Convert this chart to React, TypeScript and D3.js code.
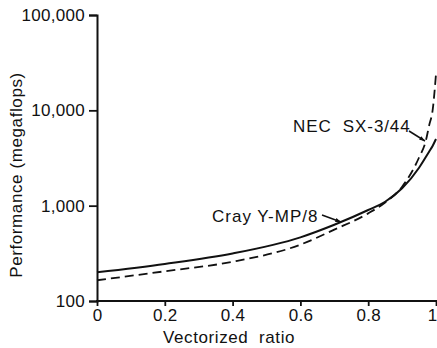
import { useEffect, useRef } from "react";
import * as d3 from "d3";

const vectorRatio = [0, 0.2, 0.4, 0.6, 0.7, 0.8, 0.85, 0.9, 0.95, 0.97, 0.98, 0.99, 1.0];
const crayYMP = [200, 245, 315, 465, 630, 900, 1100, 1520, 2500, 3240, 3700, 4230, 5000];
const necSX3 = [165, 205, 258, 390, 560, 830, 1080, 1580, 3200, 4800, 7000, 10000, 24000];

const xTicks = [0, 0.2, 0.4, 0.6, 0.8, 1];
const xTickLabels = ["0", "0.2", "0.4", "0.6", "0.8", "1"];
const yTicks = [100, 1000, 10000, 100000];
const yTickLabels = ["100", "1,000", "10,000", "100,000"];

const width = 437,
  height = 348;
const font = "'Liberation Sans', Arial, sans-serif";

export default function App() {
  const svgRef = useRef<SVGSVGElement>(null);

  useEffect(() => {
    const svg = d3.select(svgRef.current);
    svg.selectAll("*").remove();

    const x = d3.scaleLinear().domain([0, 1]).range([97, 436]);
    const y = d3.scaleLog().domain([100, 100000]).range([301, 15]);

    // y axis
    const yAxis = svg
      .append("g")
      .attr("transform", `translate(${x(0)},0)`)
      .call(
        d3
          .axisLeft(y)
          .tickValues(yTicks)
          .tickFormat((d, i) => yTickLabels[i])
          .tickSize(8)
          .tickPadding(4)
      );
    // x axis
    const xAxis = svg
      .append("g")
      .attr("transform", `translate(0,${y(100)})`)
      .call(
        d3
          .axisBottom(x)
          .tickValues(xTicks)
          .tickFormat((d, i) => xTickLabels[i])
          .tickSize(5)
          .tickPadding(3)
      );
    [yAxis, xAxis].forEach((g) => {
      g.select(".domain").attr("stroke", "#111").attr("stroke-width", 2);
      g.selectAll(".tick line").attr("stroke", "#111").attr("stroke-width", 1.8);
      g.selectAll(".tick text")
        .attr("fill", "#111")
        .style("font-family", font)
        .style("font-size", "17px")
        .style("letter-spacing", "0.3px");
    });
    xAxis.select(".domain").attr("d", `M${x(0) - 1},0H${width}`);
    // last label sits against the right edge
    xAxis
      .selectAll(".tick text")
      .filter((d) => d === 1)
      .attr("text-anchor", "end")
      .attr("dx", 1);

    const line = d3
      .line<number>()
      .x((d, i) => x(vectorRatio[i]))
      .y((d) => y(d))
      .curve(d3.curveMonotoneX);

    svg
      .append("path")
      .datum(crayYMP)
      .attr("d", line)
      .attr("fill", "none")
      .attr("stroke", "#111")
      .attr("stroke-width", 2);

    svg
      .append("path")
      .datum(necSX3)
      .attr("d", line)
      .attr("fill", "none")
      .attr("stroke", "#111")
      .attr("stroke-width", 1.8)
      .attr("stroke-dasharray", "9,5");

    // labels
    const txt = (s: string, tx: number, ty: number, ls: number, rot = 0, anchor = "start") =>
      svg
        .append("text")
        .attr("transform", `translate(${tx},${ty}) rotate(${rot})`)
        .attr("text-anchor", anchor)
        .attr("fill", "#111")
        .style("font-family", font)
        .style("font-size", "17px")
        .style("letter-spacing", `${ls}px`)
        .style("white-space", "pre")
        .text(s);

    txt("Performance (megaflops)", 22, 175, 0.6, -90, "middle");
    txt("Vectorized  ratio", 163, 343, 0.6);
    txt("NEC  SX-3/44", 293, 132, 0.9);
    txt("Cray Y-MP/8", 212, 222, 1.0);

    // pointer lines with small arrow heads
    const pointer = (x1: number, y1: number, x2: number, y2: number) => {
      svg
        .append("path")
        .attr("d", `M${x1},${y1}L${x2},${y2}`)
        .attr("stroke", "#111")
        .attr("stroke-width", 1.5)
        .attr("fill", "none");
      const a = Math.atan2(y2 - y1, x2 - x1);
      const s = 6;
      svg
        .append("path")
        .attr(
          "d",
          `M${x2},${y2}L${x2 - s * Math.cos(a - 0.35)},${y2 - s * Math.sin(a - 0.35)}L${
            x2 - s * Math.cos(a + 0.35)
          },${y2 - s * Math.sin(a + 0.35)}Z`
        )
        .attr("fill", "#111");
    };
    pointer(409, 131, 425, 141);
    pointer(322, 215, 341, 222);
  }, []);

  return (
    <svg
      ref={svgRef}
      width={width}
      height={height}
      style={{ position: "absolute", left: 0, top: 0, background: "#fff" }}
    />
  );
}
